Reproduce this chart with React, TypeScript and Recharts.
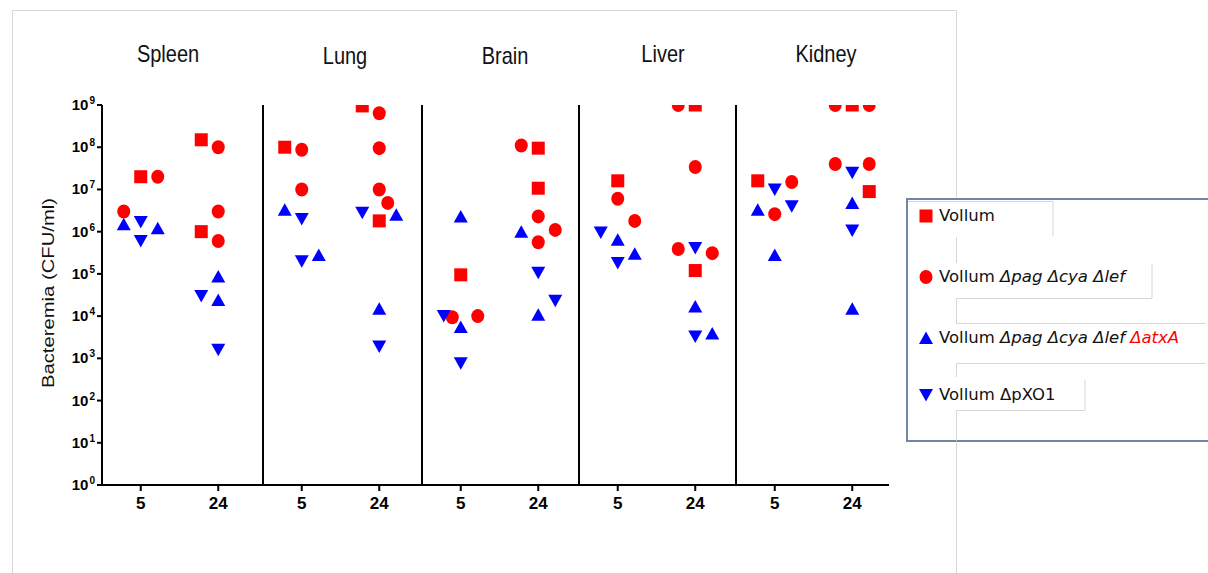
import React from "react";
import { ScatterChart, Scatter, XAxis, YAxis, Legend } from "recharts";

const organs = ["Spleen", "Lung", "Brain", "Liver", "Kidney"];
const hours = ["5", "24"];
const yTicks = [1, 1e1, 1e2, 1e3, 1e4, 1e5, 1e6, 1e7, 1e8, 1e9];
const strainNames = [
  "Vollum",
  "Vollum Δpag Δcya Δlef",
  "Vollum Δpag Δcya Δlef ΔatxA",
  "Vollum ΔpXO1",
];

// [organ index, hour index, column (-1 left, 0 centre, 1 right), CFU/ml]
type Pt = [number, number, number, number];

const vollum: Pt[] = [
  [0, 0, 0, 2e7], [0, 1, -1, 1.5e8], [0, 1, -1, 1e6],
  [1, 0, -1, 1e8], [1, 1, -1, 9.5e8], [1, 1, 0, 1.8e6],
  [2, 0, 0, 9.5e4], [2, 1, 0, 9.5e7], [2, 1, 0, 1.07e7],
  [3, 0, 0, 1.6e7], [3, 1, 0, 1e9], [3, 1, 0, 1.2e5],
  [4, 0, -1, 1.6e7], [4, 1, 0, 1e9], [4, 1, 1, 8.9e6],
];

const vollumTriple: Pt[] = [
  [0, 0, 1, 2e7], [0, 0, -1, 3e6], [0, 1, 0, 1e8], [0, 1, 0, 3e6], [0, 1, 0, 6e5],
  [1, 0, 0, 8.7e7], [1, 0, 0, 1e7], [1, 1, 0, 6.4e8], [1, 1, 0, 9.5e7], [1, 1, 0, 1e7], [1, 1, 0.5, 4.8e6],
  [2, 0, -0.5, 9.4e3], [2, 0, 1, 1e4], [2, 1, -1, 1.1e8], [2, 1, 0, 2.3e6], [2, 1, 1, 1.1e6], [2, 1, 0, 5.6e5],
  [3, 0, 0, 6e6], [3, 0, 1, 1.8e6], [3, 1, -1, 1e9], [3, 1, 0, 3.4e7], [3, 1, -1, 3.9e5], [3, 1, 1, 3.1e5],
  [4, 0, 1, 1.5e7], [4, 0, 0, 2.6e6], [4, 1, -1, 1e9], [4, 1, 1, 1e9], [4, 1, -1, 4e7], [4, 1, 1, 4e7],
];

const vollumAtxA: Pt[] = [
  [0, 0, -1, 1.5e6], [0, 0, 1, 1.2e6], [0, 1, 0, 8.7e4], [0, 1, 0, 2.4e4],
  [1, 0, -1, 3.3e6], [1, 0, 1, 2.8e5], [1, 1, 1, 2.5e6], [1, 1, 0, 1.5e4],
  [2, 0, 0, 2.3e6], [2, 0, 0, 5.5e3], [2, 1, -1, 1e6], [2, 1, 0, 1.07e4],
  [3, 0, 0, 6.4e5], [3, 0, 1, 3e5], [3, 1, 0, 1.7e4], [3, 1, 1, 3.9e3],
  [4, 0, -1, 3.3e6], [4, 0, 0, 2.8e5], [4, 1, 0, 4.8e6], [4, 1, 0, 1.5e4],
];

const vollumPxo1: Pt[] = [
  [0, 0, 0, 1.7e6], [0, 0, 0, 6e5], [0, 1, -1, 3e4], [0, 1, 0, 1.6e3],
  [1, 0, 0, 2e6], [1, 0, 0, 2e5], [1, 1, -1, 2.8e6], [1, 1, 0, 1.9e3],
  [2, 0, -1, 1e4], [2, 0, 0, 7.6e2], [2, 1, 0, 1.07e5], [2, 1, 1, 2.3e4],
  [3, 0, -1, 9.5e5], [3, 0, 0, 1.8e5], [3, 1, 0, 4.1e5], [3, 1, 0, 3.3e3],
  [4, 0, 0, 1e7], [4, 0, 1, 4e6], [4, 1, 0, 2.5e7], [4, 1, 0, 1.07e6],
];

const strainData = [vollum, vollumTriple, vollumAtxA, vollumPxo1];

// layout
const axisLeft = [102, 263, 422, 579, 736];
const plotRight = [263, 422, 579, 736, 889];
const BAND = 77.5; // px per hour category
const SLOT = 17 / BAND; // horizontal offset of side columns
const TOP_PAD = 12;
const titleX = [168, 345, 505, 663, 826];
const titleY = [62, 64, 64, 62, 62];
const RED = "#ff0000";
const BLUE = "#0000ff";
const FONT = "'Liberation Sans', Arial, sans-serif";

const Square = (p: any) => <rect x={p.cx - 6.5} y={p.cy - 6.5} width={13} height={13} fill={RED} />;
const Dot = (p: any) => <ellipse cx={p.cx} cy={p.cy} rx={6.5} ry={7} fill={RED} />;
const TriUp = (p: any) => (
  <polygon points={`${p.cx},${p.cy - 6.5} ${p.cx + 7},${p.cy + 6} ${p.cx - 7},${p.cy + 6}`} fill={BLUE} />
);
const TriDown = (p: any) => (
  <polygon points={`${p.cx},${p.cy + 6.5} ${p.cx + 7},${p.cy - 6} ${p.cx - 7},${p.cy - 6}`} fill={BLUE} />
);
const shapes = [Square, Dot, TriUp, TriDown];
const colors = [RED, RED, BLUE, BLUE];

const PowerTick = (props: any) => {
  const { x, y, payload } = props;
  const exp = Math.round(Math.log10(payload.value));
  return (
    <text x={x} y={y + 5} textAnchor="end" fontSize={15} fontWeight="bold" fill="#000" fontFamily={FONT}>
      10<tspan dx={1} dy={-6} fontSize={10}>{exp}</tspan>
    </text>
  );
};

const HourTick = (props: any) => {
  const { x, y, payload } = props;
  return (
    <text x={x} y={y + 16} textAnchor="middle" fontSize={17} fontWeight="bold" fill="#000" fontFamily={FONT}>
      {hours[Math.round(payload.value - 0.5)]}
    </text>
  );
};

const LegendBox = (props: any) => {
  const payload = [...(props.payload || [])].sort(
    (a: any, b: any) => strainNames.indexOf(a.value) - strainNames.indexOf(b.value)
  );
  const rowMid = [18, 79, 140, 197];
  return (
    <div
      style={{
        position: "absolute",
        left: 0,
        top: 0,
        width: 310,
        height: 244,
        border: "2px solid #6f86a6",
        background: "#fff",
        boxSizing: "border-box",
      }}
    >
      {payload.map((entry: any) => {
        const s = strainNames.indexOf(entry.value);
        const M = shapes[s];
        return (
          <div key={entry.value} style={{ position: "absolute", left: 0, top: rowMid[s] - 2, height: 0 }}>
            <svg width={16} height={16} style={{ position: "absolute", left: 10, top: -8 }}>
              <M cx={8} cy={8} />
            </svg>
            <span
              style={{
                position: "absolute",
                left: 31,
                top: -10,
                whiteSpace: "nowrap",
                fontFamily: "'DejaVu Sans', Verdana, sans-serif",
                fontSize: 16.5,
                lineHeight: "20px",
                color: "#111",
              }}
            >
              {String(entry.value)
                .split(" ")
                .map((w: string, k: number) => (
                  <span
                    key={k}
                    style={{
                      fontStyle: /^Δ[a-z]+A?$/.test(w) ? "italic" : "normal",
                      color: w === "ΔatxA" ? RED : undefined,
                    }}
                  >
                    {(k > 0 ? " " : "") + w}
                  </span>
                ))}
            </span>
          </div>
        );
      })}
    </div>
  );
};

function Panel({ index }: { index: number }) {
  const yW = index === 0 ? 62 : 8;
  const plotW = plotRight[index] - axisLeft[index];
  const width = yW + plotW + 2;
  return (
    <div style={{ position: "absolute", left: axisLeft[index] - yW, top: 105 - TOP_PAD }}>
      <ScatterChart width={width} height={TOP_PAD + 380 + 34} margin={{ top: TOP_PAD, right: 2, bottom: 0, left: 0 }}>
        <XAxis
          type="number"
          dataKey="x"
          domain={[0, plotW / BAND]}
          ticks={[0.5, 1.5]}
          allowDataOverflow
          height={34}
          tickSize={6}
          tick={<HourTick />}
          axisLine={{ stroke: "#000", strokeWidth: 2 }}
          tickLine={{ stroke: "#000", strokeWidth: 2 }}
        />
        <YAxis
          type="number"
          dataKey="y"
          scale="log"
          domain={[1, 1e9]}
          ticks={yTicks}
          interval={0}
          allowDataOverflow
          width={yW}
          tickSize={5}
          tick={index === 0 ? <PowerTick /> : false}
          axisLine={{ stroke: "#000", strokeWidth: 2 }}
          tickLine={{ stroke: "#000", strokeWidth: 2 }}
        />
        {strainData.map((pts, s) => (
          <Scatter
            key={s}
            name={strainNames[s]}
            data={pts
              .filter((p) => p[0] === index)
              .map((p) => ({ x: p[1] + 0.5 + p[2] * SLOT, y: p[3] }))}
            fill={colors[s]}
            shape={shapes[s]}
            isAnimationActive={false}
          />
        ))}
        {index === organs.length - 1 && (
          <Legend
            content={<LegendBox />}
            wrapperStyle={{
              position: "absolute",
              left: 906 - (axisLeft[index] - yW),
              top: 198 - (105 - TOP_PAD),
              width: 0,
              height: 0,
              overflow: "visible",
            }}
          />
        )}
      </ScatterChart>
    </div>
  );
}

export default function App() {
  const g = "#d6d6d6";
  const fx = 956.5;
  return (
    <div
      style={{
        position: "absolute",
        left: 0,
        top: 0,
        width: 1208,
        height: 573,
        overflow: "hidden",
        background: "#fff",
      }}
    >
      {organs.map((_, i) => (
        <Panel key={i} index={i} />
      ))}
      <svg width={1208} height={573} style={{ position: "absolute", left: 0, top: 0, pointerEvents: "none" }}>
        {/* figure frame and stray text-box edges */}
        <line x1={12.5} y1={10.5} x2={fx} y2={10.5} stroke={g} />
        <line x1={12.5} y1={10.5} x2={12.5} y2={573} stroke={g} />
        <line x1={fx} y1={10.5} x2={fx} y2={197} stroke={g} />
        <line x1={fx} y1={443} x2={fx} y2={573} stroke={g} />
        <path
          d={`M908,201.5 H1053 V236 M${fx},237 V263 M1152,264 V298.5 H${fx} V323.5 H1206 M${fx},363.5 H1206 M${fx},363.5 V377 M1085,380 V410.5 H${fx} V441`}
          stroke={g}
          fill="none"
        />
        {organs.map((name, i) => (
          <text
            key={name}
            transform={`translate(${titleX[i]} ${titleY[i]}) scale(1 1.2)`}
            textAnchor="middle"
            fontSize={20}
            fontFamily={FONT}
            fill="#111"
          >
            {name}
          </text>
        ))}
        <text
          transform="translate(54 293) rotate(-90)"
          textAnchor="middle"
          fontSize={16}
          fontFamily={FONT}
          textLength={190}
          lengthAdjust="spacingAndGlyphs"
          fill="#111"
        >
          Bacteremia (CFU/ml)
        </text>
      </svg>
    </div>
  );
}
